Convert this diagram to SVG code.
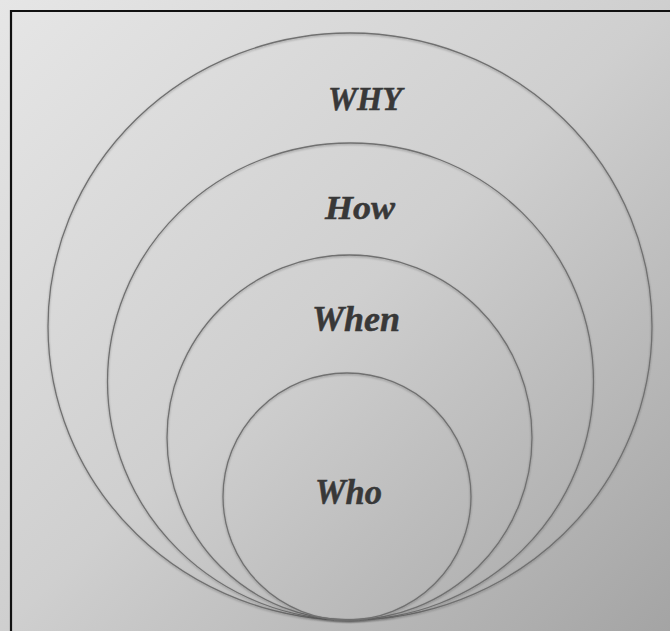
<svg xmlns="http://www.w3.org/2000/svg" width="670" height="631" viewBox="0 0 670 631">
  <defs>
    <linearGradient id="bg" x1="0" y1="0" x2="1" y2="1">
      <stop offset="0" stop-color="#e6e6e6"/>
      <stop offset="0.5" stop-color="#cfcfcf"/>
      <stop offset="1" stop-color="#a4a4a4"/>
    </linearGradient>
    <filter id="sh" x="-10%" y="-10%" width="120%" height="120%">
      <feDropShadow dx="0" dy="1" stdDeviation="1" flood-color="#000" flood-opacity="0.3"/>
    </filter>
  </defs>
  <style>
    .ring { fill: none; stroke: #707070; stroke-width: 1.3; filter: url(#sh); }
    .lbl { font-family: "Liberation Serif", "DejaVu Serif", serif; font-weight: bold; font-style: italic; fill: #383838; stroke: #383838; stroke-width: 0.5; text-anchor: start; }
    .frame { stroke: #111; stroke-width: 2.2; fill: none; }
  </style>
  <rect x="0" y="0" width="670" height="631" fill="url(#bg)"/>
  <path class="frame" d="M11,631 V11 H670"/>

  <g id="why">
    <ellipse class="ring" cx="350" cy="326.5" rx="302" ry="293.5"/>
    <text class="lbl" x="328" y="110" font-size="33" textLength="74" lengthAdjust="spacingAndGlyphs">WHY</text>
  </g>
  <g id="how">
    <ellipse class="ring" cx="350.5" cy="381.5" rx="243" ry="238.5"/>
    <text class="lbl" x="325" y="219" font-size="33" textLength="70" lengthAdjust="spacingAndGlyphs">How</text>
  </g>
  <g id="when">
    <ellipse class="ring" cx="349.5" cy="437.5" rx="182.5" ry="182.5"/>
    <text class="lbl" x="312" y="331" font-size="35" textLength="88" lengthAdjust="spacingAndGlyphs">When</text>
  </g>
  <g id="who">
    <ellipse class="ring" cx="347" cy="496.5" rx="124" ry="123.5"/>
    <text class="lbl" x="315" y="504" font-size="35" textLength="67" lengthAdjust="spacingAndGlyphs">Who</text>
  </g>
  <g id="connectors"/>
</svg>
